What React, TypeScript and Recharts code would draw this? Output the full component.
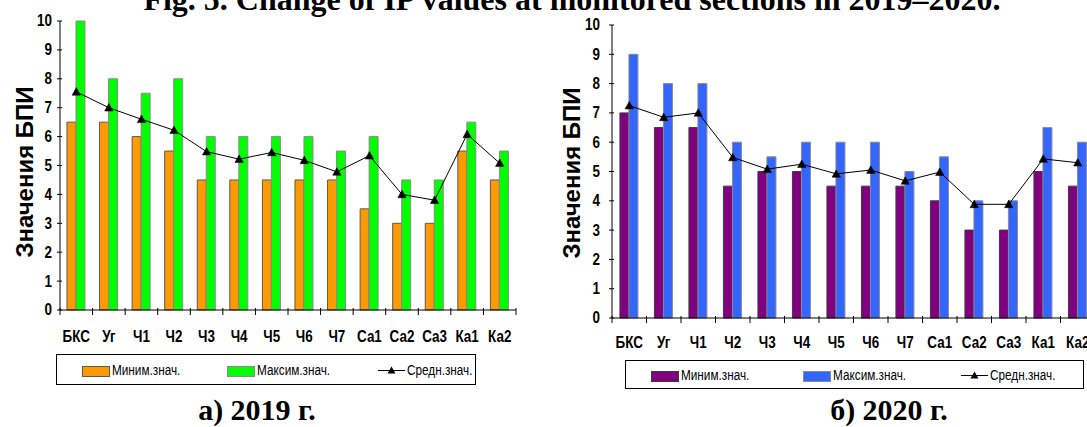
import React from 'react';
import { ComposedChart, Bar, Line, XAxis, YAxis } from 'recharts';

const categories = ['БКС', 'Уг', 'Ч1', 'Ч2', 'Ч3', 'Ч4', 'Ч5', 'Ч6', 'Ч7', 'Са1', 'Са2', 'Са3', 'Ка1', 'Ка2'];
const min2019 = [6.5, 6.5, 6, 5.5, 4.5, 4.5, 4.5, 4.5, 4.5, 3.5, 3, 3, 5.5, 4.5];
const max2019 = [10, 8, 7.5, 8, 6, 6, 6, 6, 5.5, 6, 4.5, 4.5, 6.5, 5.5];
const avg2019 = [7.55, 7.0, 6.6, 6.22, 5.48, 5.22, 5.45, 5.18, 4.78, 5.34, 4.0, 3.8, 6.08, 5.08];
const min2020 = [7, 6.5, 6.5, 4.5, 5, 5, 4.5, 4.5, 4.5, 4, 3, 3, 5, 4.5];
const max2020 = [9, 8, 8, 6, 5.5, 6, 6, 6, 5, 5.5, 4, 4, 6.5, 6];
const avg2020 = [7.25, 6.85, 7.0, 5.48, 5.08, 5.25, 4.92, 5.05, 4.68, 4.98, 3.88, 3.88, 5.43, 5.3];
const yTicks = [0, 1, 2, 3, 4, 5, 6, 7, 8, 9, 10];
const seriesNames = ['Миним.знач.', 'Максим.знач.', 'Средн.знач.'];
const yAxisTitle = 'Значения БПИ';
const titleText = 'Fig. 5. Change of IP values at monitored sections in 2019–2020.';
const captions = ['а) 2019 г.', 'б) 2020 г.'];

const SANS = "'Liberation Sans', Arial, sans-serif";
const SERIF = "'Liberation Serif', 'Times New Roman', serif";
const NARROW = 0.84;

const buildData = (mins: number[], maxs: number[], avgs: number[]) =>
  categories.map((name, i) => ({ name, min: mins[i], max: maxs[i], avg: avgs[i] }));

const data2019 = buildData(min2019, max2019, avg2019);
const data2020 = buildData(min2020, max2020, avg2020);

const Triangle = (props: any) => {
  const { cx, cy } = props;
  if (cx == null || cy == null) return null;
  const s = 4.2;
  return (
    <path
      d={`M${cx},${cy - s} L${cx + s},${cy + s * 0.8} L${cx - s},${cy + s * 0.8} Z`}
      fill="#000"
      stroke="#000"
      strokeWidth={0.5}
    />
  );
};

type PanelProps = {
  data: any[];
  left: number;
  width: number;
  marginTop: number;
  marginLeft: number;
  marginRight: number;
  marginBottom: number;
  yAxisWidth: number;
  minColor: string;
  maxColor: string;
  minStroke: string;
  maxStroke: string;
  gapPct: string;
  labelX: number;
  labelY: number;
  yLabelGap: number;
  catLabelOffset: number;
};

const Panel = (p: PanelProps) => {
  const height = 427;
  const plotLeft = p.marginLeft + p.yAxisWidth;
  const plotRight = p.width - p.marginRight;
  const plotBottom = height - p.marginBottom - 30;
  const band = (plotRight - plotLeft) / categories.length;

  const XTick = (props: any) => {
    const { x, payload } = props;
    const isLast = payload.value === categories[categories.length - 1];
    const ty = plotBottom + p.catLabelOffset;
    return (
      <g>
        <line x1={x - band / 2} x2={x - band / 2} y1={plotBottom - 2} y2={plotBottom + 5} stroke="#000" strokeWidth={1} />
        {isLast && (
          <line x1={x + band / 2} x2={x + band / 2} y1={plotBottom - 2} y2={plotBottom + 5} stroke="#000" strokeWidth={1} />
        )}
        <text
          transform={`translate(${x} ${ty}) scale(${NARROW} 1)`}
          x={0}
          y={0}
          textAnchor="middle"
          dominantBaseline="central"
          fontFamily={SANS}
          fontWeight="bold"
          fontSize={16}
          fill="#000"
        >
          {payload.value}
        </text>
      </g>
    );
  };

  const YTick = (props: any) => {
    const { y, payload } = props;
    return (
      <g>
        <line x1={plotLeft - 3} x2={plotLeft + 2} y1={y} y2={y} stroke="#000" strokeWidth={1} />
        <text
          transform={`translate(${plotLeft - p.yLabelGap} ${y}) scale(${NARROW} 1)`}
          x={0}
          y={0}
          textAnchor="end"
          dominantBaseline="central"
          fontFamily={SANS}
          fontWeight="bold"
          fontSize={16}
          fill="#000"
        >
          {payload.value}
        </text>
      </g>
    );
  };

  const AxisTitle = () => (
    <text
      x={p.labelX}
      y={p.labelY}
      transform={`rotate(-90 ${p.labelX} ${p.labelY})`}
      textAnchor="middle"
      dominantBaseline="central"
      fontFamily={SANS}
      fontWeight="bold"
      fontSize={24}
      fill="#000"
    >
      {yAxisTitle}
    </text>
  );

  return (
    <div style={{ position: 'absolute', left: p.left, top: 0 }}>
      <ComposedChart
        width={p.width}
        height={height}
        data={p.data}
        margin={{ top: p.marginTop, left: p.marginLeft, right: p.marginRight, bottom: p.marginBottom }}
        barCategoryGap={p.gapPct}
        barGap={0}
      >
        <XAxis
          dataKey="name"
          interval={0}
          height={30}
          tickLine={false}
          axisLine={{ stroke: '#000', strokeWidth: 1 }}
          tick={<XTick />}
        />
        <XAxis
          xAxisId="top"
          dataKey="name"
          orientation="top"
          height={0}
          tick={false}
          tickLine={false}
          axisLine={{ stroke: '#a6a6a6', strokeWidth: 1 }}
        />
        <YAxis
          domain={[0, 10]}
          ticks={yTicks}
          interval={0}
          width={p.yAxisWidth}
          tickLine={false}
          axisLine={{ stroke: '#000', strokeWidth: 1 }}
          tick={<YTick />}
          label={{ content: <AxisTitle /> }}
        />
        <YAxis
          yAxisId="right"
          orientation="right"
          domain={[0, 10]}
          width={0}
          tick={false}
          tickLine={false}
          axisLine={{ stroke: '#a6a6a6', strokeWidth: 1 }}
        />
        <Bar dataKey="min" name={seriesNames[0]} fill={p.minColor} stroke={p.minStroke} strokeWidth={1} isAnimationActive={false} />
        <Bar dataKey="max" name={seriesNames[1]} fill={p.maxColor} stroke={p.maxStroke} strokeWidth={1} isAnimationActive={false} />
        <Line
          dataKey="avg"
          name={seriesNames[2]}
          stroke="#000"
          strokeWidth={1}
          dot={<Triangle />}
          activeDot={false}
          isAnimationActive={false}
        />
      </ComposedChart>
    </div>
  );
};

type LegendProps = {
  left: number;
  top: number;
  width: number;
  height: number;
  minColor: string;
  maxColor: string;
  minStroke: string;
  maxStroke: string;
  pos: number[];
};

const LegendBox = (l: LegendProps) => {
  const textStyle: React.CSSProperties = {
    position: 'absolute',
    top: 0,
    height: l.height,
    lineHeight: `${l.height}px`,
    fontFamily: SANS,
    fontSize: 14,
    color: '#000',
    whiteSpace: 'nowrap',
    transform: `scaleX(${NARROW})`,
    transformOrigin: 'left center',
  };
  const swTop = Math.round(l.height / 2 - 5);
  return (
    <div
      style={{
        position: 'absolute',
        left: l.left,
        top: l.top,
        width: l.width,
        height: l.height,
        border: '1px solid #000',
        boxSizing: 'border-box',
        background: '#fff',
      }}
    >
      <div style={{ position: 'absolute', left: l.pos[0], top: swTop, width: 26, height: 9, background: l.minColor, border: `1px solid ${l.minStroke}` }} />
      <div style={{ ...textStyle, left: l.pos[0] + 30 }}>{seriesNames[0]}</div>
      <div style={{ position: 'absolute', left: l.pos[1], top: swTop, width: 26, height: 9, background: l.maxColor, border: `1px solid ${l.maxStroke}` }} />
      <div style={{ ...textStyle, left: l.pos[1] + 30 }}>{seriesNames[1]}</div>
      <svg style={{ position: 'absolute', left: l.pos[2], top: 0 }} width={28} height={l.height}>
        <line x1={0} x2={27} y1={l.height / 2} y2={l.height / 2} stroke="#000" strokeWidth={1} />
        <path d={`M13.5,${l.height / 2 - 4} L17.5,${l.height / 2 + 3} L9.5,${l.height / 2 + 3} Z`} fill="#000" />
      </svg>
      <div style={{ ...textStyle, left: l.pos[2] + 29 }}>{seriesNames[2]}</div>
    </div>
  );
};

export default function App() {
  return (
    <div
      style={{
        position: 'fixed',
        left: 0,
        top: 0,
        width: 1087,
        height: 427,
        overflow: 'hidden',
        background: '#fff',
      }}
    >
      <div
        style={{
          position: 'absolute',
          left: 0,
          width: 1087,
          top: -19,
          textAlign: 'center',
          fontFamily: SERIF,
          fontWeight: 'bold',
          fontSize: 32,
          lineHeight: '36px',
          paddingLeft: 57,
          boxSizing: 'border-box',
          whiteSpace: 'nowrap',
        }}
      >
        {titleText}
      </div>

      <Panel
        data={data2019}
        left={0}
        width={540}
        marginTop={21}
        marginLeft={30}
        marginRight={24}
        marginBottom={87}
        yAxisWidth={30}
        minColor="#FF9900"
        maxColor="#00FF00"
        minStroke="#5a5a5a"
        maxStroke="#8c8c8c"
        gapPct="21.4%"
        labelX={24}
        labelY={172}
        yLabelGap={8}
        catLabelOffset={27}
      />
      <Panel
        data={data2020}
        left={540}
        width={560}
        marginTop={25}
        marginLeft={42}
        marginRight={5}
        marginBottom={79}
        yAxisWidth={30}
        minColor="#800080"
        maxColor="#3366FF"
        minStroke="#3c3c3c"
        maxStroke="#8c8c8c"
        gapPct="23%"
        labelX={31}
        labelY={173}
        yLabelGap={12}
        catLabelOffset={25}
      />

      <LegendBox
        left={56}
        top={354}
        width={420}
        height={31}
        minColor="#FF9900"
        maxColor="#00FF00"
        minStroke="#5a5a5a"
        maxStroke="#8c8c8c"
        pos={[25, 170, 321]}
      />
      <LegendBox
        left={625}
        top={360}
        width={459}
        height={29}
        minColor="#800080"
        maxColor="#3366FF"
        minStroke="#3c3c3c"
        maxStroke="#8c8c8c"
        pos={[25, 177, 335]}
      />

      <div
        style={{
          position: 'absolute',
          left: 157,
          width: 200,
          top: 393,
          textAlign: 'center',
          fontFamily: SERIF,
          fontWeight: 'bold',
          fontSize: 30,
          lineHeight: '34px',
        }}
      >
        {captions[0]}
      </div>
      <div
        style={{
          position: 'absolute',
          left: 789,
          width: 200,
          top: 393,
          textAlign: 'center',
          fontFamily: SERIF,
          fontWeight: 'bold',
          fontSize: 30,
          lineHeight: '34px',
        }}
      >
        {captions[1]}
      </div>
    </div>
  );
}
